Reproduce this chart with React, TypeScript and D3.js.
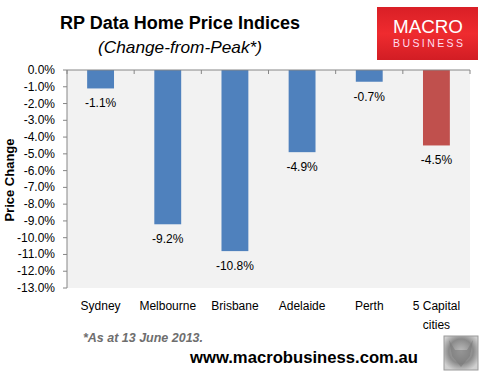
import React from "react";
import * as d3 from "d3";

const categories = ["Sydney", "Melbourne", "Brisbane", "Adelaide", "Perth", "5 Capital cities"];
const values = [-1.1, -9.2, -10.8, -4.9, -0.7, -4.5];
const barColors = ["#4f81bd", "#4f81bd", "#4f81bd", "#4f81bd", "#4f81bd", "#c0504d"];
const yTicks = d3.range(0, -13.5, -1);

const W = 489;
const H = 379;
const plot = { left: 67, right: 470, top: 70, bottom: 288 };
const FONT = "'Liberation Sans', Arial, sans-serif";

export default function App() {
  const x = d3
    .scaleBand<string>()
    .domain(categories)
    .range([plot.left, plot.right])
    .paddingInner(0.6)
    .paddingOuter(0.3);
  const y = d3.scaleLinear().domain([-13, 0]).range([plot.bottom, plot.top]);
  const step = x.step();
  const boundaries = d3.range(categories.length + 1).map((i) => plot.left + i * step);

  return (
    <svg
      width={W}
      height={H}
      style={{ position: "absolute", left: 0, top: 0, background: "#fff" }}
      fontFamily={FONT}
    >
      <defs>
        <linearGradient id="logoGrad" x1="0" y1="0" x2="0" y2="1">
          <stop offset="0%" stopColor="#d91f26" />
          <stop offset="50%" stopColor="#ef2b2f" />
          <stop offset="100%" stopColor="#d21d24" />
        </linearGradient>
        <radialGradient id="wolfGrad" cx="50%" cy="45%" r="60%">
          <stop offset="0%" stopColor="#bdbdbd" />
          <stop offset="60%" stopColor="#8a8a8a" />
          <stop offset="100%" stopColor="#d0d0d0" />
        </radialGradient>
      </defs>

      {/* Title */}
      <text x={180} y={29} textAnchor="middle" fontWeight="bold" fontSize={18} textLength={240} lengthAdjust="spacingAndGlyphs" fill="#000">
        RP Data Home Price Indices
      </text>
      <text x={180} y={53} textAnchor="middle" fontStyle="italic" fontSize={17} textLength={164} lengthAdjust="spacingAndGlyphs" fill="#000">
        (Change-from-Peak*)
      </text>

      {/* Logo */}
      <rect x={377} y={7} width={101} height={53} fill="url(#logoGrad)" />
      <text x={428} y={33} textAnchor="middle" fontSize={19} fill="#fff" textLength={70} lengthAdjust="spacingAndGlyphs">
        MACRO
      </text>
      <text x={428} y={47} textAnchor="middle" fontSize={10.5} fill="#fde" textLength={70} lengthAdjust="spacing">
        BUSINESS
      </text>

      {/* Plot background */}
      <rect x={plot.left} y={plot.top} width={plot.right - plot.left} height={plot.bottom - plot.top} fill="#f2f2f2" />

      {/* Bars */}
      {categories.map((c, i) => (
        <rect
          key={c}
          x={x(c)}
          y={y(0)}
          width={x.bandwidth()}
          height={y(values[i]) - y(0)}
          fill={barColors[i]}
        />
      ))}

      {/* Data labels */}
      {categories.map((c, i) => (
        <text
          key={c + "-l"}
          x={(x(c) as number) + x.bandwidth() / 2}
          y={y(values[i]) + 19}
          textAnchor="middle"
          fontSize={12}
          fill="#000"
        >
          {values[i].toFixed(1) + "%"}
        </text>
      ))}

      {/* Y axis */}
      <line x1={plot.left} x2={plot.left} y1={plot.top} y2={plot.bottom} stroke="#868686" />
      {yTicks.map((t) => (
        <g key={t}>
          <line x1={plot.left - 4} x2={plot.left} y1={y(t)} y2={y(t)} stroke="#868686" />
          <text x={55} y={y(t) + 4} textAnchor="end" fontSize={12} fill="#000">
            {t.toFixed(1) + "%"}
          </text>
        </g>
      ))}

      {/* X axis at zero */}
      <line x1={plot.left} x2={plot.right} y1={y(0)} y2={y(0)} stroke="#868686" />
      {boundaries.map((b, i) => (
        <line key={i} x1={b} x2={b} y1={y(0)} y2={y(0) + 4} stroke="#868686" />
      ))}

      {/* Category labels */}
      {categories.map((c) => {
        const cx = (x(c) as number) + x.bandwidth() / 2;
        const lines = c === "5 Capital cities" ? ["5 Capital", "cities"] : [c];
        return (
          <text key={c + "-c"} x={cx} y={310} textAnchor="middle" fontSize={12} fill="#000">
            {lines.map((l, j) => (
              <tspan key={j} x={cx} dy={j === 0 ? 0 : 19}>
                {l}
              </tspan>
            ))}
          </text>
        );
      })}

      {/* Y axis title */}
      <text
        transform={`translate(14,180) rotate(-90)`}
        textAnchor="middle"
        fontWeight="bold"
        fontSize={13}
        fill="#000"
      >
        Price Change
      </text>

      {/* Footnote */}
      <text x={83} y={342} fontStyle="italic" fontWeight="bold" fontSize={13} fill="#6e6e6e" textLength={120} lengthAdjust="spacingAndGlyphs">
        *As at 13 June 2013.
      </text>
      <text x={190} y={363} fontWeight="bold" fontSize={17} fill="#000" textLength={228} lengthAdjust="spacingAndGlyphs">
        www.macrobusiness.com.au
      </text>

      {/* Wolf image placeholder */}
      <rect x={444} y={336} width={34} height={34} fill="url(#wolfGrad)" stroke="#9a9a9a" />
      <path d="M449,340 L455,350 L467,350 L473,340 L470,356 L461,367 L452,356 Z" fill="#7a7a7a" opacity={0.6} />
    </svg>
  );
}
